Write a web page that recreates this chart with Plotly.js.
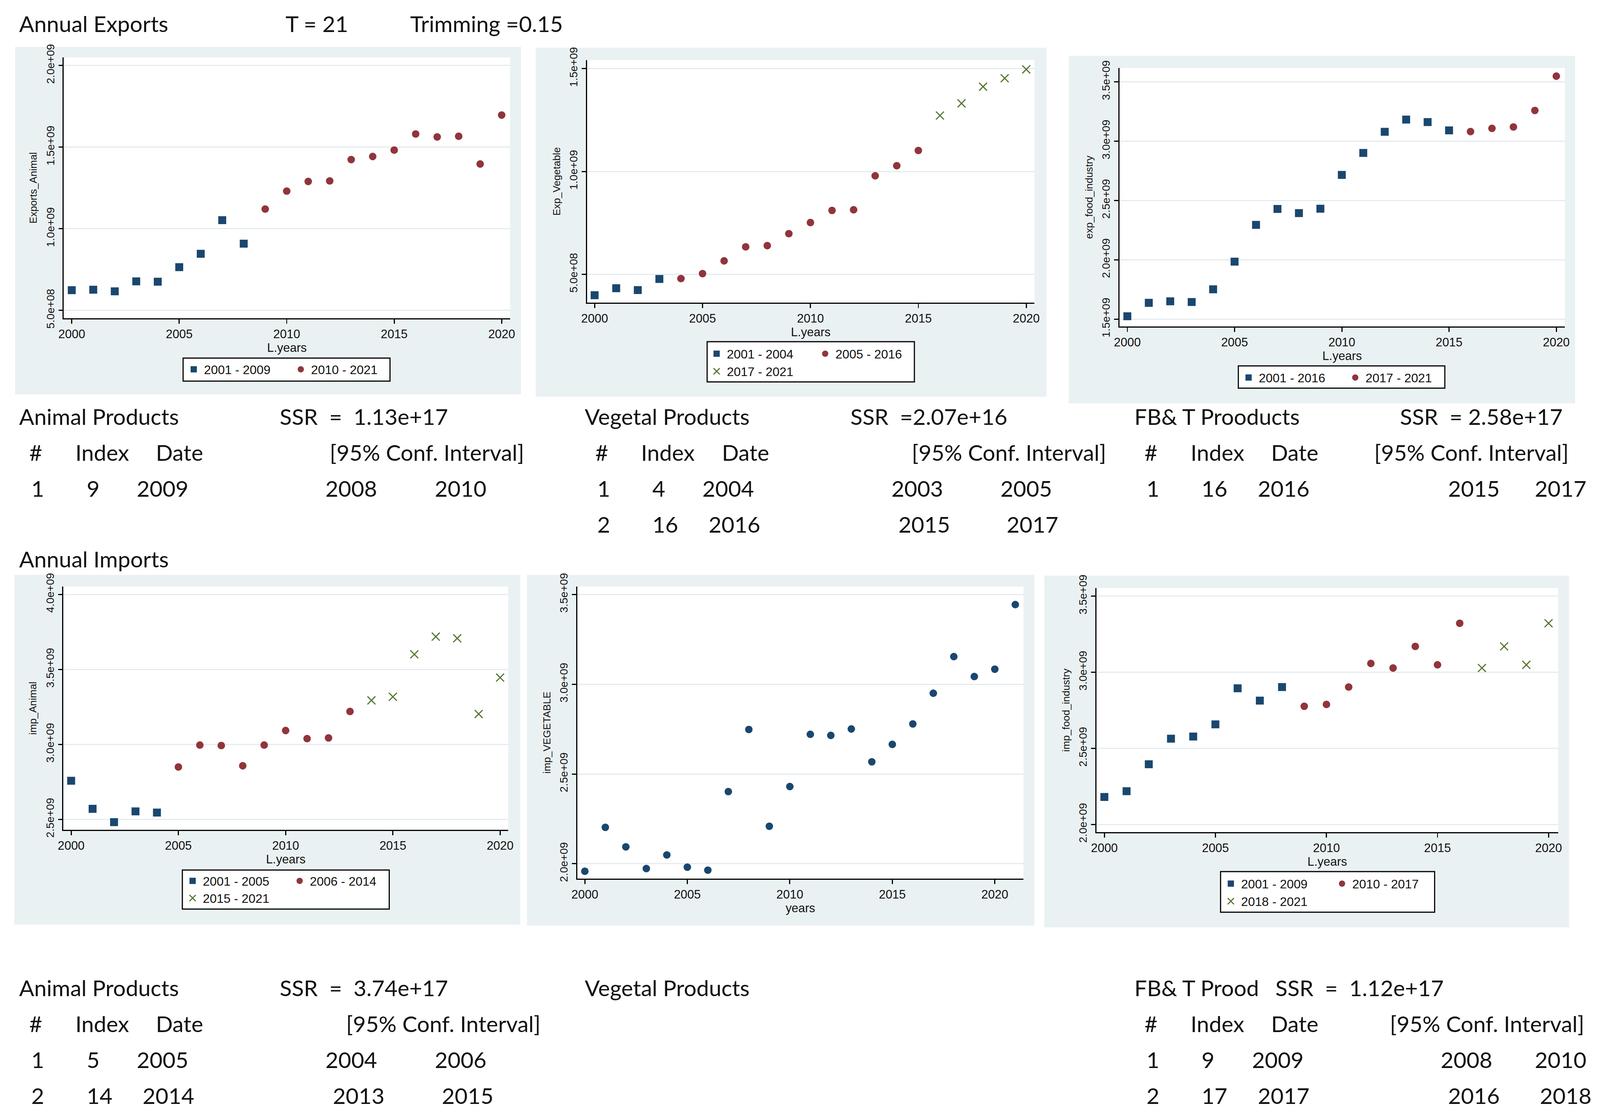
<!DOCTYPE html>
<html><head><meta charset="utf-8">
<script src="https://cdn.plot.ly/plotly-3.0.1.min.js"></script>
<style>html,body{margin:0;padding:0;background:#fff;overflow:hidden}</style>
</head><body><div id="chart"></div>
<script>
// ---------------- DATA ----------------
const lagYears = [2000,2001,2002,2003,2004,2005,2006,2007,2008,2009,2010,2011,2012,2013,2014,2015,2016,2017,2018,2019,2020];
const calYears = [2000,2001,2002,2003,2004,2005,2006,2007,2008,2009,2010,2011,2012,2013,2014,2015,2016,2017,2018,2019,2020,2021];
const xTickVals = [2000,2005,2010,2015,2020];
const xTickText = ['2000','2005','2010','2015','2020'];

// Annual exports
const expAnimal = [6.24e8,6.27e8,6.17e8,6.78e8,6.76e8,7.65e8,8.47e8,1.053e9,9.09e8,1.121e9,1.231e9,1.290e9,1.293e9,1.424e9,1.443e9,1.482e9,1.581e9,1.563e9,1.567e9,1.397e9,1.697e9];
const expAnimalGroups = ['2001 - 2009','2010 - 2021'];
const expAnimalSizes = [9,12];
const expAnimalTicks = [5e8,1e9,1.5e9,2e9];
const expAnimalTickText = ['5.0e+08','1.0e+09','1.5e+09','2.0e+09'];

const expVeg = [3.99e8,4.33e8,4.24e8,4.78e8,4.80e8,5.04e8,5.66e8,6.34e8,6.40e8,6.98e8,7.52e8,8.11e8,8.14e8,9.79e8,1.028e9,1.102e9,1.272e9,1.331e9,1.412e9,1.453e9,1.496e9];
const expVegGroups = ['2001 - 2004','2005 - 2016','2017 - 2021'];
const expVegSizes = [4,12,5];
const expVegTicks = [5e8,1e9,1.5e9];
const expVegTickText = ['5.0e+08','1.0e+09','1.5e+09'];

const expFood = [1.525e9,1.638e9,1.651e9,1.645e9,1.752e9,1.985e9,2.295e9,2.429e9,2.394e9,2.431e9,2.716e9,2.901e9,3.079e9,3.182e9,3.161e9,3.091e9,3.081e9,3.108e9,3.120e9,3.259e9,3.548e9];
const expFoodGroups = ['2001 - 2016','2017 - 2021'];
const expFoodSizes = [16,5];
const expFoodTicks = [1.5e9,2e9,2.5e9,3e9,3.5e9];
const expFoodTickText = ['1.5e+09','2.0e+09','2.5e+09','3.0e+09','3.5e+09'];

// Annual imports
const impAnimal = [2.758e9,2.571e9,2.482e9,2.554e9,2.546e9,2.850e9,2.996e9,2.993e9,2.858e9,2.996e9,3.093e9,3.039e9,3.044e9,3.220e9,3.294e9,3.318e9,3.601e9,3.719e9,3.708e9,3.203e9,3.446e9];
const impAnimalGroups = ['2001 - 2005','2006 - 2014','2015 - 2021'];
const impAnimalSizes = [5,9,7];
const impAnimalTicks = [2.5e9,3e9,3.5e9,4e9];
const impAnimalTickText = ['2.5e+09','3.0e+09','3.5e+09','4.0e+09'];

const impVeg = [1.958e9,2.203e9,2.094e9,1.973e9,2.049e9,1.981e9,1.964e9,2.402e9,2.748e9,2.209e9,2.430e9,2.721e9,2.715e9,2.751e9,2.568e9,2.665e9,2.779e9,2.950e9,3.154e9,3.043e9,3.084e9,3.444e9];
const impVegTicks = [2e9,2.5e9,3e9,3.5e9];
const impVegTickText = ['2.0e+09','2.5e+09','3.0e+09','3.5e+09'];

const impFood = [2.181e9,2.219e9,2.396e9,2.564e9,2.578e9,2.658e9,2.895e9,2.814e9,2.903e9,2.777e9,2.789e9,2.903e9,3.058e9,3.028e9,3.170e9,3.049e9,3.322e9,3.028e9,3.170e9,3.049e9,3.322e9];
const impFoodGroups = ['2001 - 2009','2010 - 2017','2018 - 2021'];
const impFoodSizes = [9,8,4];
const impFoodTicks = [2e9,2.5e9,3e9,3.5e9];
const impFoodTickText = ['2.0e+09','2.5e+09','3.0e+09','3.5e+09'];

// Tables (text)
const headerTop = ['Annual Exports','T = 21','Trimming =0.15'];
const headerMid = 'Annual Imports';
const expTitles = ['Animal Products','Vegetal Products','FB& T Prooducts'];
const expSSR = ['SSR  =  1.13e+17','SSR  =2.07e+16','SSR  = 2.58e+17'];
const impTitles = ['Animal Products','Vegetal Products','FB& T Prood'];
const impSSR = ['SSR  =  3.74e+17','','SSR  =  1.12e+17'];
const colHeads = ['#','Index','Date','[95% Conf. Interval]'];
const expBreaks = [
  [['1','9','2009','2008','2010']],
  [['1','4','2004','2003','2005'],['2','16','2016','2015','2017']],
  [['1','16','2016','2015','2017']]
];
const impBreaks = [
  [['1','5','2005','2004','2006'],['2','14','2014','2013','2015']],
  [],
  [['1','9','2009','2008','2010'],['2','17','2017','2016','2018']]
];

// ---------------- STYLE / LAYOUT ----------------
const W = 4238, H = 2863;              // design size (reference pixels)
const VW = window.innerWidth || W, VH = window.innerHeight || H;  // actual viewport
const f = Math.min(VW / W, VH / H);    // scale for pixel-sized things
const fx = VW / W;
const chartDiv = document.getElementById('chart');
chartDiv.style.width = VW + 'px'; chartDiv.style.height = VH + 'px';

const NAVY = '#1a476f', MAROON = '#90353b', GREEN = '#55752f';
const PANEL_BG = '#eaf1f3', GRID = '#e3ecef';
const AX_FONT = 'Liberation Sans, Arial, sans-serif';
const TXT_FONT = 'Lato, Carlito, sans-serif';
const markerStyles = [
  {symbol:'square', size:21 * f, color:NAVY, line:{width:0}},
  {symbol:'circle', size:20 * f, color:MAROON, line:{width:0}},
  {symbol:'x-thin-open', size:21 * f, color:GREEN, line:{width:3 * f, color:GREEN}}
];

const panels = [
  {bg:[40,120,1380,1010], plot:[169,147,1351,815], xr:[1999.63,2020.39], yr:[4.52e8,2.05e9],
   x:lagYears, y:expAnimal, groups:expAnimalGroups, sizes:expAnimalSizes, tv:expAnimalTicks, tt:expAnimalTickText,
   yt:'Exports_Animal', xt:'L.years', box:[485,917,1033,976], rows:[{x:486,y:946,n:[0,1],ew:224}]},
  {bg:[1419,122,2772,1016], plot:[1555,154,2740,775], xr:[1999.65,2020.38], yr:[3.63e8,1.541e9],
   x:lagYears, y:expVeg, groups:expVegGroups, sizes:expVegSizes, tv:expVegTicks, tt:expVegTickText,
   yt:'Exp_Vegetable', xt:'L.years', box:[1873,875,2422,978], rows:[{x:1871,y:906,n:[0,1],ew:228},{x:1871,y:951,n:[2],ew:228}]},
  {bg:[2831,143,4172,1033], plot:[2965,174,4145,836], xr:[1999.63,2020.4], yr:[1.439e9,3.617e9],
   x:lagYears, y:expFood, groups:expFoodGroups, sizes:expFoodSizes, tv:expFoodTicks, tt:expFoodTickText,
   yt:'exp_food_industry', xt:'L.years', box:[3280,937,3827,994], rows:[{x:3280,y:967,n:[0,1],ew:223}]},
  {bg:[38,1472,1378,2368], plot:[168,1502,1346,2125], xr:[1999.64,2020.375], yr:[2.431e9,4.053e9],
   x:lagYears, y:impAnimal, groups:impAnimalGroups, sizes:impAnimalSizes, tv:impAnimalTicks, tt:impAnimalTickText,
   yt:'imp_Animal', xt:'L.years', box:[483,2228,1031,2328], rows:[{x:483,y:2256,n:[0,1],ew:224},{x:483,y:2300,n:[2],ew:224}]},
  {bg:[1396,1472,2740,2370], plot:[1529,1502,2711,2250], xr:[1999.63,2021.4], yr:[1.917e9,3.5446e9],
   x:calYears, y:impVeg, groups:null, sizes:[22], tv:impVegTicks, tt:impVegTickText,
   yt:'imp_VEGETABLE', xt:'years', box:null, rows:[]},
  {bg:[2766,1474,4156,2375], plot:[2904,1506,4127,2131], xr:[1999.64,2020.43], yr:[1.95e9,3.553e9],
   x:lagYears, y:impFood, groups:impFoodGroups, sizes:impFoodSizes, tv:impFoodTicks, tt:impFoodTickText,
   yt:'imp_food_industry', xt:'L.years', box:[3233,2232,3800,2336], rows:[{x:3233,y:2263,n:[0,1],ew:235},{x:3233,y:2308,n:[2],ew:235}]}
];

const px = v => v / W;
const py = v => 1 - v / H;

const traces = [];
const layout = {
  width: VW, height: VH, margin:{l:0,r:0,t:0,b:0},
  paper_bgcolor:'#ffffff', plot_bgcolor:'#ffffff',
  showlegend:true, shapes:[], annotations:[]
};

let legendCount = 0;
panels.forEach((p, i) => {
  const k = i === 0 ? '' : String(i + 1);
  const xa = 'x' + k, ya = 'y' + k;
  layout['xaxis' + k] = {
    domain:[px(p.plot[0]), px(p.plot[2])], range:p.xr, anchor:ya,
    tickmode:'array', tickvals:xTickVals, ticktext:xTickText,
    ticks:'outside', ticklen:11 * f, tickwidth:3 * f, tickcolor:'#000',
    showline:true, linewidth:3 * f, linecolor:'#000', showgrid:false, zeroline:false,
    tickfont:{family:AX_FONT, size:32 * f, color:'#111'},
    title:{text:p.xt, font:{family:AX_FONT, size:32 * f, color:'#111'}, standoff:2 * f},
    fixedrange:true
  };
  layout['yaxis' + k] = {
    domain:[py(p.plot[3]), py(p.plot[1])], range:p.yr, anchor:xa,
    tickmode:'array', tickvals:p.tv, ticktext:p.tt, tickangle:-90,
    ticks:'outside', ticklen:11 * f, tickwidth:3 * f, tickcolor:'#000',
    showline:true, linewidth:3 * f, linecolor:'#000',
    showgrid:true, gridcolor:GRID, gridwidth:3 * f, zeroline:false,
    tickfont:{family:AX_FONT, size:29 * f, color:'#111'},
    title:{text:p.yt, font:{family:AX_FONT, size:27 * f, color:'#111'}, standoff:12 * f},
    fixedrange:true
  };
  layout.shapes.push({type:'rect', xref:'paper', yref:'paper', layer:'below',
    x0:px(p.bg[0]), x1:px(p.bg[2]), y0:py(p.bg[3]), y1:py(p.bg[1]), fillcolor:PANEL_BG, line:{width:0}});
  layout.shapes.push({type:'rect', xref:'paper', yref:'paper', layer:'below',
    x0:px(p.plot[0]), x1:px(p.plot[2]), y0:py(p.plot[3]), y1:py(p.plot[1]), fillcolor:'#ffffff', line:{width:0}});
  if (p.box) {
    layout.shapes.push({type:'rect', xref:'paper', yref:'paper', layer:'below',
      x0:px(p.box[0]), x1:px(p.box[2]), y0:py(p.box[3]), y1:py(p.box[1]), fillcolor:'#ffffff', line:{width:3 * f, color:'#000'}});
  }
  const legendOf = {};
  p.rows.forEach(r => {
    legendCount += 1;
    const lk = legendCount === 1 ? 'legend' : 'legend' + legendCount;
    layout[lk] = {x:px(r.x), y:py(r.y), xref:'paper', yref:'paper', xanchor:'left', yanchor:'middle',
      orientation:'h', entrywidth:r.ew * fx, entrywidthmode:'pixels', itemwidth:Math.max(30, 44 * f),
      bgcolor:'rgba(0,0,0,0)', borderwidth:0, traceorder:'normal',
      font:{family:AX_FONT, size:33 * f, color:'#111'}, itemclick:false, itemdoubleclick:false};
    r.n.forEach(g => { legendOf[g] = lk; });
  });
  if (p.groups) {
    let start = 0;
    p.sizes.forEach((n, g) => {
      traces.push({type:'scatter', mode:'markers', xaxis:xa, yaxis:ya,
        x:p.x.slice(start, start + n), y:p.y.slice(start, start + n),
        name:p.groups[g], marker:markerStyles[g], legend:legendOf[g], showlegend:true, hoverinfo:'skip'});
      start += n;
    });
  } else {
    traces.push({type:'scatter', mode:'markers', xaxis:xa, yaxis:ya, x:p.x, y:p.y,
      marker:{symbol:'circle', size:20 * f, color:NAVY, line:{width:0}}, showlegend:false, hoverinfo:'skip'});
  }
});

// ---------------- TEXT ----------------
const S = 2.705;
function txt(xd, yd, s) {
  layout.annotations.push({xref:'paper', yref:'paper', x:px(xd * S), y:py(yd * S),
    xanchor:'left', yanchor:'middle', showarrow:false,
    text:s.replace(/ /g, '\u00a0'), font:{family:TXT_FONT, size:59 * f, color:'#111'}});
}
txt(18, 22, headerTop[0]); txt(279, 22, headerTop[1]); txt(401, 22, headerTop[2]);
txt(18, 529, headerMid);

const blockX = [18, 572, 1110];
const expSSRx = [273, 832, 1370];
const expHeadX = [[28,73,152,322],[582,627,706,892],[1120,1165,1244,1345]];
const expRowX = [
  [[30,84,133,318,425]],
  [[584,638,687,872,979],[584,638,693,879,985]],
  [[1122,1176,1231,1417,1502]]
];
for (let b = 0; b < 3; b++) {
  txt(blockX[b], 394, expTitles[b]);
  txt(expSSRx[b], 394, expSSR[b]);
  colHeads.forEach((h, c) => txt(expHeadX[b][c], 428, h));
  expBreaks[b].forEach((row, r) => row.forEach((v, c) => txt(expRowX[b][r][c], 462 + 34 * r, v)));
}

const impSSRx = [273, 0, 1248];
const impHeadX = [[28,73,152,338],null,[1120,1165,1244,1360]];
const impRowX = [
  [[30,84,133,318,425],[30,84,139,325,432]],
  [],
  [[1122,1176,1225,1410,1502],[1122,1176,1231,1417,1507]]
];
for (let b = 0; b < 3; b++) {
  txt(blockX[b], 935, impTitles[b]);
  if (impSSR[b]) txt(impSSRx[b], 935, impSSR[b]);
  if (impHeadX[b]) colHeads.forEach((h, c) => txt(impHeadX[b][c], 969, h));
  impBreaks[b].forEach((row, r) => row.forEach((v, c) => txt(impRowX[b][r][c], 1003 + 34 * r, v)));
}

Plotly.newPlot('chart', traces, layout, {staticPlot:true, displayModeBar:false});
</script></body></html>
